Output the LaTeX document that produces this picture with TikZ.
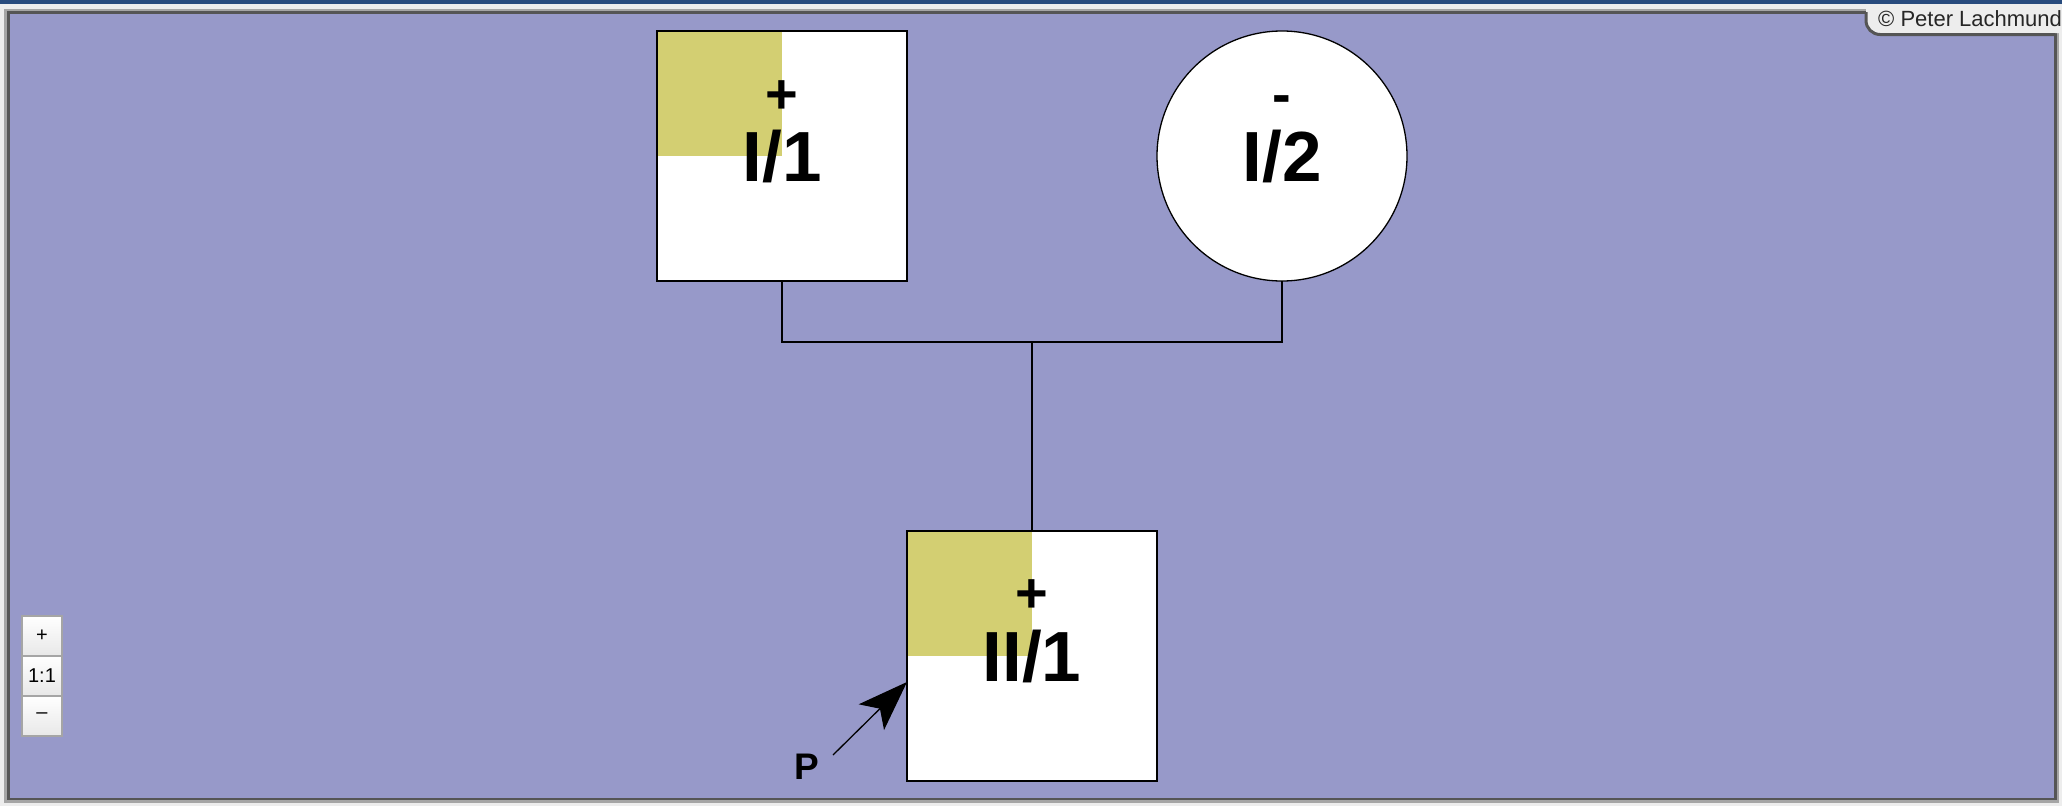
\documentclass[tikz,border=0pt]{standalone}
\usepackage{fontspec}
\setmainfont{Liberation Sans}
\usepackage{tikz}
\usetikzlibrary{positioning, arrows.meta}
\definecolor{bgpurple}{RGB}{151,153,201}
\definecolor{yellowq}{RGB}{211,207,114}
\definecolor{titlebar}{RGB}{40,75,125}
\definecolor{panelgray}{RGB}{237,237,237}
\definecolor{framedark}{RGB}{85,85,85}
\definecolor{framemid}{RGB}{165,165,165}
\tikzset{node distance=250pt, person/.style={draw, line width=2pt, fill=white, minimum size=250pt, inner sep=0pt, outer sep=0pt, font=\fontsize{71}{71}\selectfont\bfseries}, male/.style={person, rectangle}, female/.style={person, circle, line width=1.3pt}, affected/.style={path picture={\fill[yellowq] (path picture bounding box.north west) rectangle (path picture bounding box.center);}}, sign/.style={anchor=base, inner sep=0pt, font=\fontsize{56}{56}\selectfont\bfseries}, link/.style={line width=2pt}, zoombtn/.style={draw=framemid, line width=2pt, top color=white, bottom color=black!9, minimum size=40pt, inner sep=0pt, outer sep=0pt, font=\fontsize{20}{20}\selectfont}}

\begin{document}
\begin{tikzpicture}[x=1pt, y=-1pt]
	\useasboundingbox (0,0) rectangle (2062,806);
	\fill[panelgray] (0,0) rectangle (2062,806);
	\fill[framemid] (4,9) rectangle (2059,802.5);
	\fill[framedark] (7,10.5) rectangle (2056.5,800);
	\fill[bgpurple] (10,14) rectangle (2054,798);
	\fill[panelgray, rounded corners=14pt] (1866,-30) -- (1866,33) -- (2090,33) -- (2090,-30) -- cycle;
	\draw[framedark, line width=3pt, rounded corners=14pt] (1866,12) -- (1866,34.5) -- (2055,34.5);
	\fill[titlebar] (0,0) rectangle (2062,3.5);
	\node[anchor=base west, inner sep=0pt, text=black!85, font=\fontsize{22}{22}\selectfont] (Credit) at (1878,26.5) {\textcopyright{} Peter Lachmund};

	\node[male, affected] (I1) at (782,156) {I/1};
	\node[female, right=of I1] (I2) {I/2};
	\node[male, affected, below right=250pt and 0pt of I1] (II1) {II/1};
	\node[sign] (I1sign) at ([yshift=43pt]I1.center) {+};
	\node[sign] (I2sign) at ([yshift=43pt]I2.center) {-};
	\node[sign] (II1sign) at ([yshift=44pt]II1.center) {+};

	\coordinate (Union) at ([yshift=-61pt]I1.south -| II1.north);
	\draw[link] (I1.south) |- (Union) -| (I2.south)
		(Union) -- (II1.north);

	\node[anchor=base, inner sep=0pt, font=\fontsize{37}{37}\selectfont\bfseries] (P) at (807,779) {P};
	\coordinate (Ptail) at (833,755);
	\draw[line width=1.3pt, -{Stealth[length=50pt, width=36pt, inset=12pt]}] (Ptail) -- ([yshift=-26pt]II1.west);

	\node[zoombtn] (ZoomIn) at (42,635.5) {+};
	\node[zoombtn, below=0pt of ZoomIn] (ZoomOne) {1:1};
	\node[zoombtn, below=0pt of ZoomOne] (ZoomOut) {\textendash};
\end{tikzpicture}
\end{document}
